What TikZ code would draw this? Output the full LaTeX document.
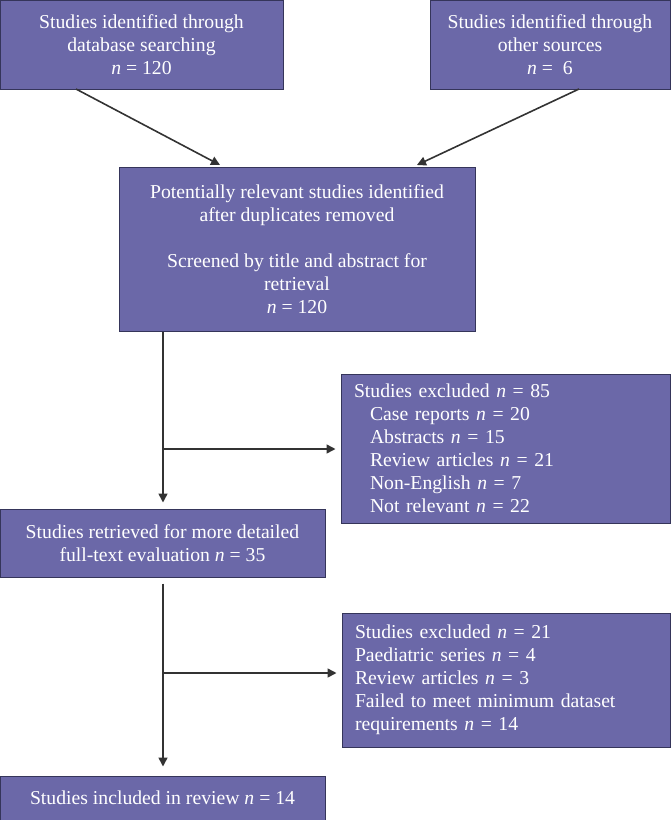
\documentclass[tikz,border=0pt]{standalone}
\usepackage{fontspec}
\setmainfont{Liberation Serif}
\usetikzlibrary{arrows.meta}

\definecolor{boxfill}{HTML}{6B68A8}
\definecolor{boxline}{HTML}{35355A}
\definecolor{linkgray}{HTML}{333333}

\tikzset{
  flowbox/.style={draw=boxline, line width=1pt, fill=boxfill, text=white,
    align=center, inner sep=0pt, font=\fontsize{19.7}{23}\selectfont},
  listbox/.style={flowbox, align=left, inner xsep=13pt},
  link/.style={draw=linkgray, line width=1.6pt,
    -{Triangle[length=9pt,width=9pt]}}
}

\begin{document}
\begin{tikzpicture}[x=1pt,y=-1pt]
\useasboundingbox (0,0) rectangle (670,820);

\node[flowbox, minimum width=283pt, minimum height=89pt] (db) at (141.5,44.5)
  {Studies identified through\\database searching\\\textit{n} = 120};
\node[flowbox, minimum width=240pt, minimum height=89pt] (other) at (550,44.5)
  {Studies identified through\\other sources\\\textit{n} =\ \ 6};
\node[flowbox, minimum width=356pt, minimum height=164pt] (screen) at (297,249)
  {Potentially relevant studies identified\\after duplicates removed\\[23pt]Screened by title and abstract for\\retrieval\\\textit{n} = 120};
\node[listbox, minimum width=329pt, minimum height=149pt, text width=303pt] (excl1) at (505.5,448.5)
  {Studies excluded \textit{n} = 85\\
   \hspace*{16pt}Case reports \textit{n} = 20\\
   \hspace*{16pt}Abstracts \textit{n} = 15\\
   \hspace*{16pt}Review articles \textit{n} = 21\\
   \hspace*{16pt}Non-English \textit{n} = 7\\
   \hspace*{16pt}Not relevant \textit{n} = 22};
\node[flowbox, minimum width=325pt, minimum height=68pt] (full) at (162.5,543)
  {Studies retrieved for more detailed\\full-text evaluation \textit{n} = 35};
\node[listbox, minimum width=328pt, minimum height=134pt, text width=302pt] (excl2) at (506,680)
  {Studies excluded \textit{n} = 21\\
   Paediatric series \textit{n} = 4\\
   Review articles \textit{n} = 3\\
   Failed to meet minimum dataset\\
   requirements \textit{n} = 14};
\node[flowbox, minimum width=325pt, minimum height=44pt] (incl) at (162.5,798)
  {Studies included in review \textit{n} = 14};

% pomozne tocke
\coordinate (db out) at (76,89);
\coordinate (db in) at (220,165);
\coordinate (other out) at (579,89);
\coordinate (other in) at (417,165);
\coordinate (trunk) at (163,0);
\coordinate (split1) at (163,449);
\coordinate (split2) at (163,673);

\draw[link] (db out) -- (db in);
\draw[link] (other out) -- (other in);
\draw[link, shorten >=6pt] (screen.south -| trunk) -- (full.north -| trunk);
\draw[link, shorten >=5pt] (split1) -- (split1 -| excl1.west);
\draw[link, shorten <=6pt, shorten >=9pt] (full.south -| trunk) -- (incl.north -| trunk);
\draw[link, shorten >=5pt] (split2) -- (split2 -| excl2.west);
\end{tikzpicture}
\end{document}
